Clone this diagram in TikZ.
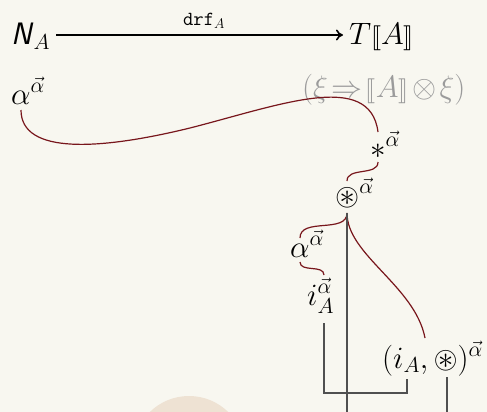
\RequirePackage{fix-cm}
\documentclass[tikz,border=0pt]{standalone}
\usepackage{amsmath}
\usepackage{amssymb}
\usepackage{stmaryrd}
\usetikzlibrary{calc, arrows.meta, positioning}
\definecolor{paper}{RGB}{248,247,240}
\definecolor{peach}{RGB}{238,226,211}
\definecolor{wire}{RGB}{120,22,28}
\definecolor{rail}{RGB}{80,80,80}
\definecolor{faded}{RGB}{155,155,155}
\tikzset{
  lbl/.style={inner sep=0pt, anchor=base west, font=\fontsize{31}{36}\selectfont},
  small/.style={inner sep=0pt, anchor=base west, font=\fontsize{20}{24}\selectfont},
  strand/.style={wire, line width=1.2pt},
  bar/.style={rail, line width=1.2pt}
}

\begin{document}
\begin{tikzpicture}[x=1pt,y=-1pt]
        \fill[paper] (0,0) rectangle (487,412);
        \begin{scope}
          \clip (0,0) rectangle (487,412);
          \fill[peach] (189,452) circle (56pt);
        \end{scope}
        \useasboundingbox (0,0) rectangle (487,412);

        \node[lbl] (na) at (11,45) {\textsf{\slshape N}$_A$};
        \node[lbl] (ta) at (349,45) {$T\llbracket A\rrbracket$};
        \node[small] (drf) at (183,26) {$\mathtt{drf}_A$};
        \draw[line width=1.6pt, -{To[length=7pt,width=11pt]}] ([xshift=6pt]na.east |- 0,35) -- ([xshift=-6pt]ta.west |- 0,35);

        \node[lbl] (a1) at (11,104) {$\alpha^{\vec{\alpha}}$};
        \node[lbl, text=faded] (ty) at (302,97) {$(\xi\mskip2mu\mathord{\Rightarrow}\mskip2mu\llbracket A\rrbracket\mskip2mu\mathord{\otimes}\mskip2mu\xi)$};
        \node[lbl] (st) at (370,158) {$\ast^{\vec{\alpha}}$};
        \node[lbl] (oc) at (335,205) {$\circledast^{\vec{\alpha}}$};
        \node[lbl] (a2) at (290,257) {$\alpha^{\vec{\alpha}}$};
        \node[lbl] (ia) at (307,305) {$i_A^{\vec{\alpha}}$};
        \node[lbl] (pr) at (382,368) {$(i_A,\circledast)^{\vec{\alpha}}$};

        \coordinate (ocb) at ($(oc.base west)+(12,8)$);

        \draw[strand] ($(a1.base west)+(10,6)$) .. controls (21,155) and (100,150) .. (190,128)
              .. controls (280,105) and (370,70) .. ($(st.base west)+(8,-26)$);
        \draw[strand] ($(st.base west)+(8,4)$) to[out=-90,in=90] ($(oc.base west)+(12,-24)$);
        \draw[strand] (ocb) to[out=-90,in=90] ($(a2.base west)+(10,-19)$);
        \draw[strand] ($(a2.base west)+(10,5)$) to[out=-90,in=90] ($(ia.base west)+(17,-30)$);
        \draw[strand] (ocb) .. controls ($(ocb)+(0,42)$) and ($(pr.base west)+(33,-82)$) .. ($(pr.base west)+(43,-30)$);

        \coordinate (e1) at (347,412);
        \coordinate (e2) at (447,412);
        \draw[bar] (ocb) -- (e1);
        \draw[bar] ($(ia.base west)+(17,18)$) |- ($(pr.base west)+(25,25)$) -- ($(pr.base west)+(25,11)$);
        \draw[bar] ($(pr.base west)+(65,9)$) -- (e2);
\end{tikzpicture}
\end{document}
